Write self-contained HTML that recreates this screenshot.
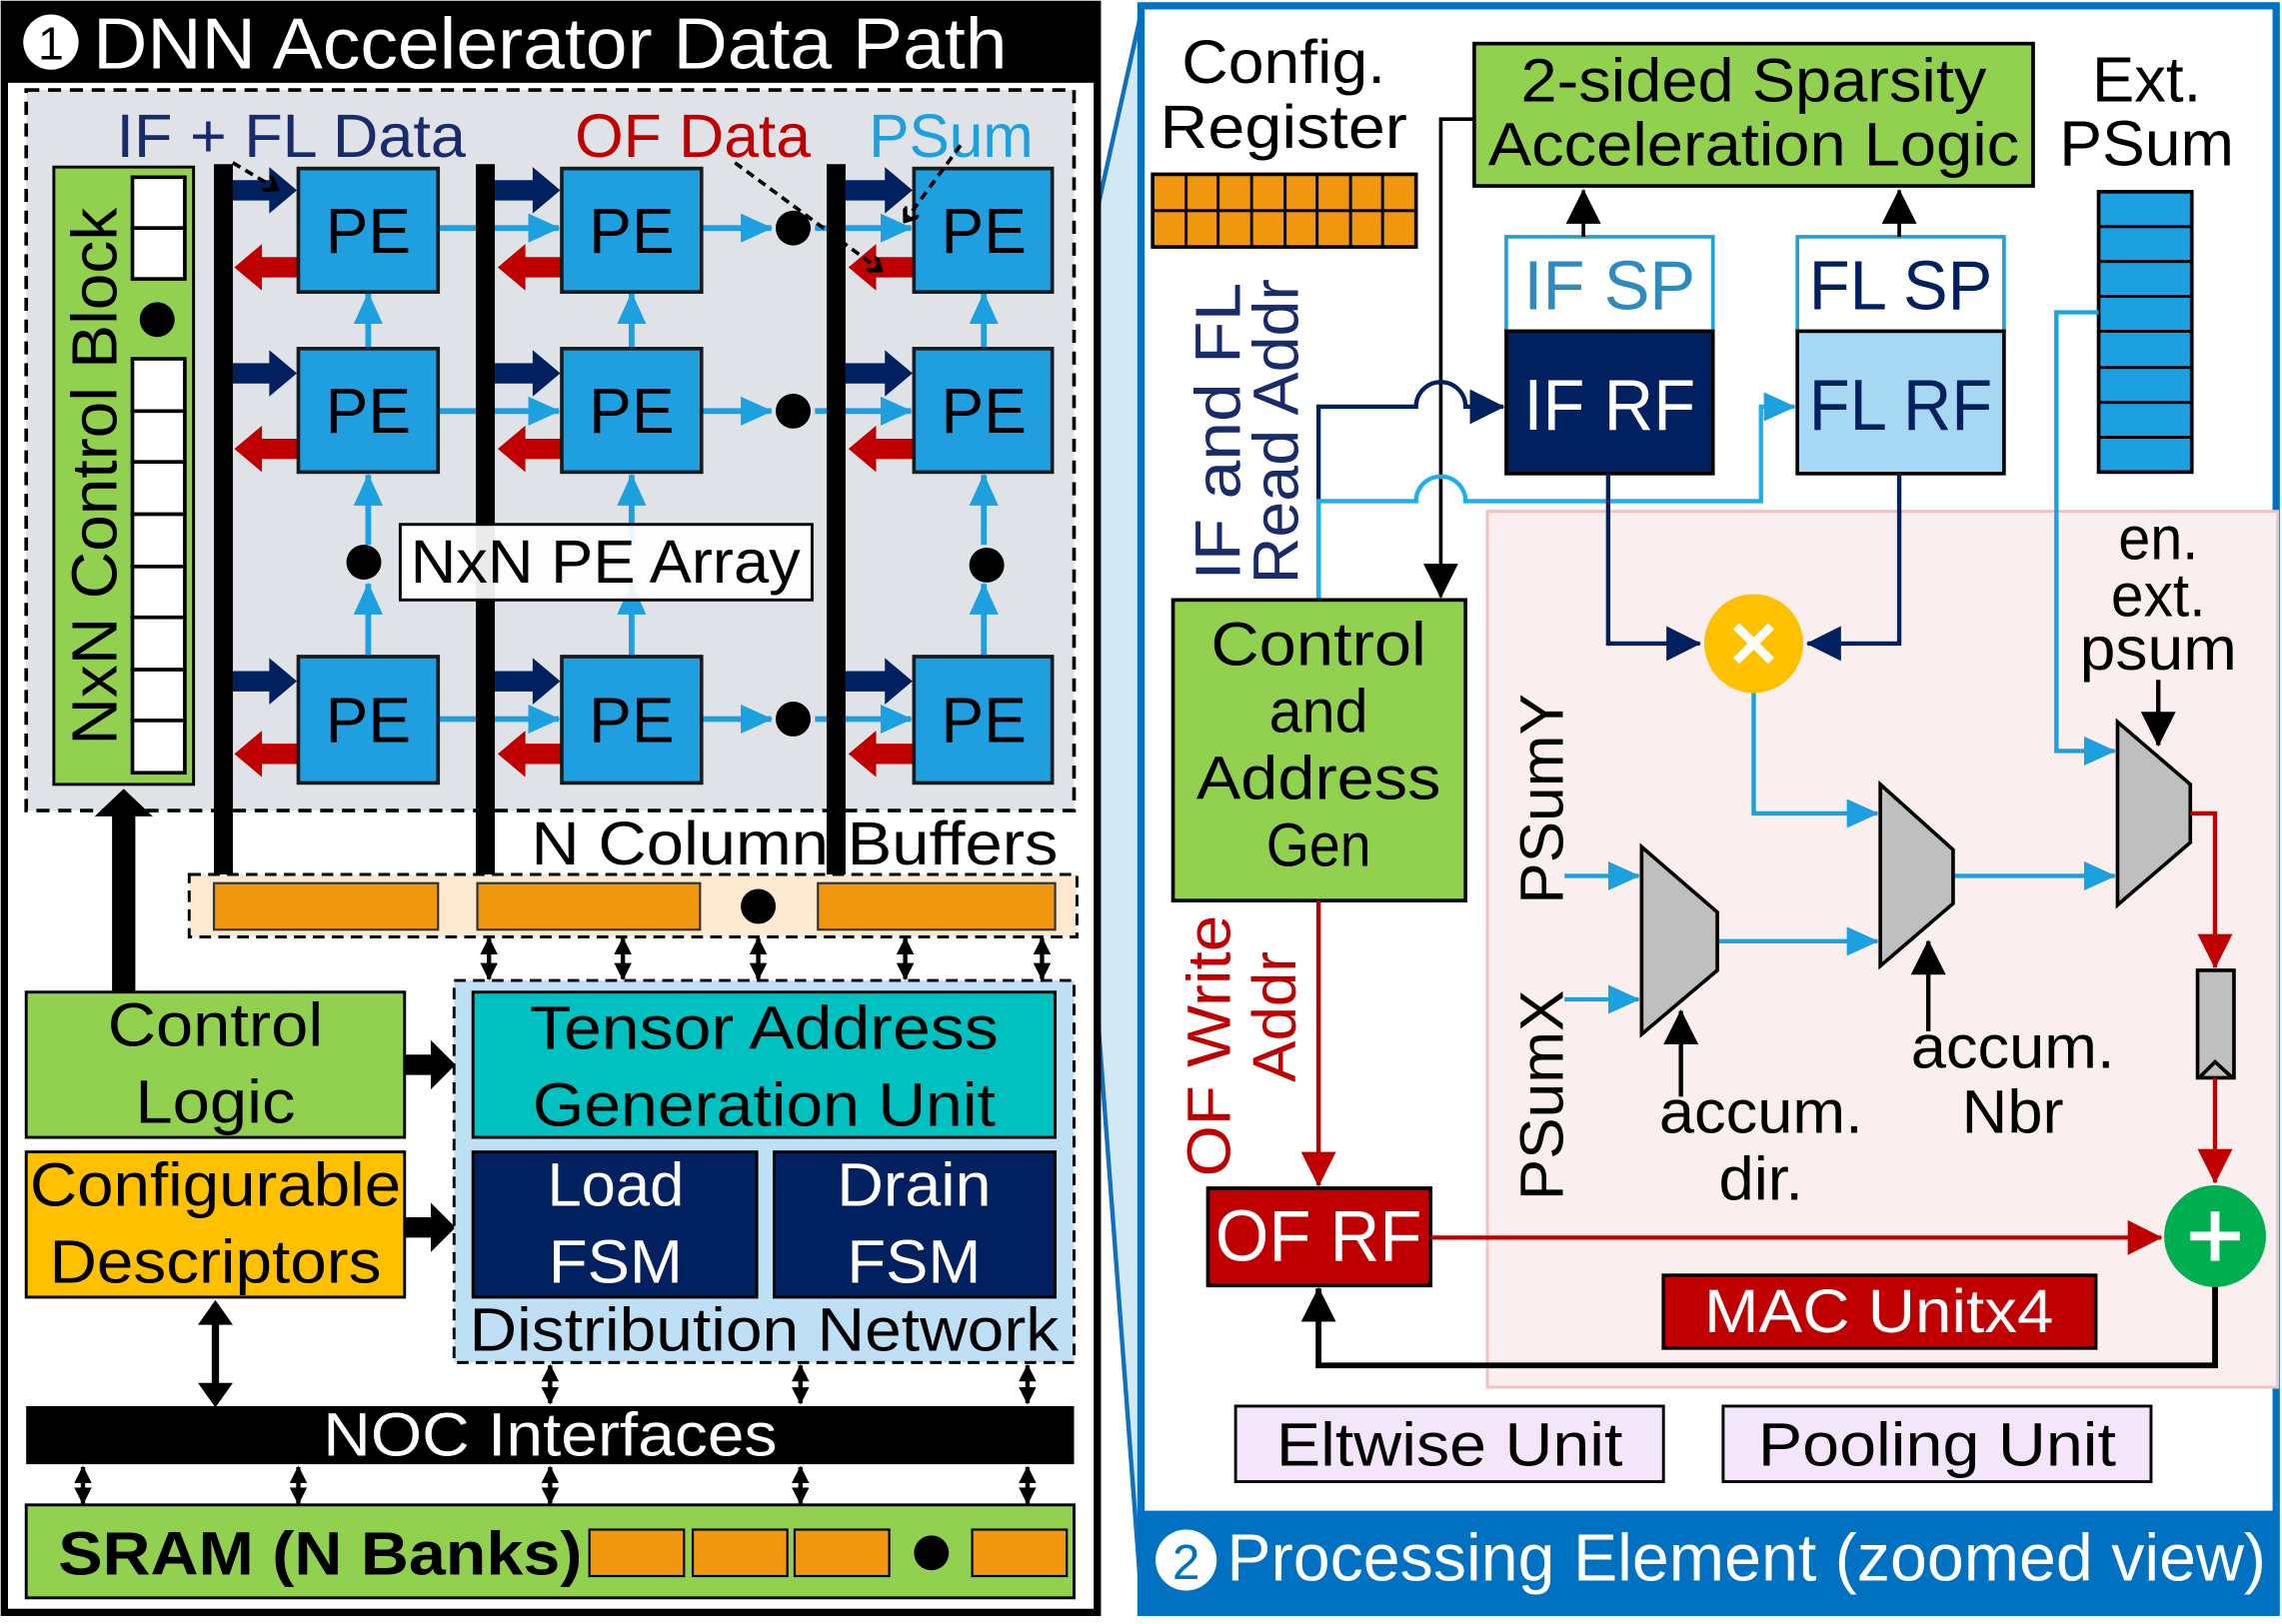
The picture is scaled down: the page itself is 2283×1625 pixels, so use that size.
<!DOCTYPE html>
<html><head><meta charset="utf-8"><style>
html,body{margin:0;padding:0;background:#fff;}
svg{display:block;}
text{font-family:"Liberation Sans",sans-serif;}
</style></head><body>
<svg width="2283" height="1625" viewBox="0 0 1568 1118" preserveAspectRatio="none" xmlns="http://www.w3.org/2000/svg">
<defs>
<marker id="ab" markerWidth="22" markerHeight="20" refX="21" refY="10" orient="auto" markerUnits="userSpaceOnUse"><path d="M0,0 L22,10 L0,20z" fill="#1ca0e0"/></marker>
<marker id="an" markerWidth="24" markerHeight="24" refX="23" refY="12" orient="auto" markerUnits="userSpaceOnUse"><path d="M0,0 L24,12 L0,24z" fill="#002060"/></marker>
<marker id="ar" markerWidth="24" markerHeight="24" refX="23" refY="12" orient="auto" markerUnits="userSpaceOnUse"><path d="M0,0 L24,12 L0,24z" fill="#c00000"/></marker>
<marker id="ak" markerWidth="24" markerHeight="24" refX="23" refY="12" orient="auto" markerUnits="userSpaceOnUse"><path d="M0,0 L24,12 L0,24z" fill="#000"/></marker>
<marker id="as" markerWidth="12" markerHeight="12" refX="11" refY="6" orient="auto-start-reverse" markerUnits="userSpaceOnUse"><path d="M0,0 L12,6 L0,12z" fill="#000"/></marker>
<marker id="ad" markerWidth="12" markerHeight="12" refX="10" refY="6" orient="auto" markerUnits="userSpaceOnUse"><path d="M2,0 L10,6 L2,12" fill="none" stroke="#000" stroke-width="3"/></marker>
</defs>

<polygon points="723,283 785,5 785,1110" fill="#d2e8f5" stroke="#1070c0" stroke-width="3"/>

<!-- LEFT PANEL -->
<rect x="3" y="3" width="751" height="1107" fill="#fff" stroke="#000" stroke-width="5"/>
<rect x="3" y="3" width="751" height="54" fill="#000"/>
<circle cx="35" cy="29" r="19" fill="#fff"/>
<text x="35" y="41" font-size="32" text-anchor="middle" fill="#000">1</text>
<text x="64" y="47" font-size="50" fill="#fff" textLength="628" lengthAdjust="spacingAndGlyphs">DNN Accelerator Data Path</text>

<rect x="18" y="62" width="720" height="496" fill="#dfe3e8" stroke="#000" stroke-width="2.5" stroke-dasharray="9,6"/>
<text x="80" y="108" font-size="42" fill="#1a2b6b" textLength="240" lengthAdjust="spacingAndGlyphs">IF + FL Data</text>
<text x="395" y="108" font-size="42" fill="#c00000" textLength="162" lengthAdjust="spacingAndGlyphs">OF Data</text>
<text x="597" y="108" font-size="42" fill="#1ca0e0" textLength="113" lengthAdjust="spacingAndGlyphs">PSum</text>

<rect x="37" y="115" width="96" height="425" fill="#92d050" stroke="#000" stroke-width="2"/>
<text transform="translate(80,328) rotate(-90)" font-size="44" text-anchor="middle" fill="#000" textLength="370" lengthAdjust="spacingAndGlyphs">NxN Control Block</text>
<g fill="#fff" stroke="#000" stroke-width="2.5">
<rect x="91" y="122" width="36" height="35"/><rect x="91" y="157" width="36" height="35"/>
<rect x="91" y="247" width="36" height="36"/><rect x="91" y="283" width="36" height="35"/>
<rect x="91" y="318" width="36" height="36"/><rect x="91" y="354" width="36" height="36"/>
<rect x="91" y="390" width="36" height="35"/><rect x="91" y="425" width="36" height="36"/>
<rect x="91" y="461" width="36" height="35"/><rect x="91" y="496" width="36" height="36"/>
</g>
<circle cx="108" cy="220" r="12" fill="#000"/>

<g stroke="#1ca0e0" stroke-width="4" fill="none">
<line x1="301" y1="157" x2="384" y2="157" marker-end="url(#ab)"/>
<line x1="482" y1="157" x2="530" y2="157" marker-end="url(#ab)"/>
<line x1="560" y1="157" x2="626" y2="157" marker-end="url(#ab)"/>
<line x1="301" y1="283" x2="384" y2="283" marker-end="url(#ab)"/>
<line x1="482" y1="283" x2="530" y2="283" marker-end="url(#ab)"/>
<line x1="560" y1="283" x2="626" y2="283" marker-end="url(#ab)"/>
<line x1="301" y1="495" x2="384" y2="495" marker-end="url(#ab)"/>
<line x1="482" y1="495" x2="530" y2="495" marker-end="url(#ab)"/>
<line x1="560" y1="495" x2="626" y2="495" marker-end="url(#ab)"/>
<line x1="253" y1="240" x2="253" y2="202" marker-end="url(#ab)"/>
<line x1="434" y1="240" x2="434" y2="202" marker-end="url(#ab)"/>
<line x1="676" y1="240" x2="676" y2="202" marker-end="url(#ab)"/>
<line x1="253" y1="375" x2="253" y2="327" marker-end="url(#ab)"/>
<line x1="434" y1="375" x2="434" y2="327" marker-end="url(#ab)"/>
<line x1="676" y1="375" x2="676" y2="327" marker-end="url(#ab)"/>
<line x1="253" y1="452" x2="253" y2="402" marker-end="url(#ab)"/>
<line x1="434" y1="452" x2="434" y2="402" marker-end="url(#ab)"/>
<line x1="676" y1="452" x2="676" y2="402" marker-end="url(#ab)"/>
</g>

<rect x="147" y="113" width="13" height="497" fill="#000"/>
<rect x="327" y="113" width="13" height="497" fill="#000"/>
<rect x="568" y="113" width="13" height="497" fill="#000"/>

<g fill="#002060">
<polygon points="160,124 185,124 185,115 204,131 185,147 185,138 160,138"/>
<polygon points="340,124 366,124 366,115 385,131 366,147 366,138 340,138"/>
<polygon points="581,124 608,124 608,115 627,131 608,147 608,138 581,138"/>
<polygon points="160,250 185,250 185,241 204,257 185,273 185,264 160,264"/>
<polygon points="340,250 366,250 366,241 385,257 366,273 366,264 340,264"/>
<polygon points="581,250 608,250 608,241 627,257 608,273 608,264 581,264"/>
<polygon points="160,462 185,462 185,453 204,469 185,485 185,476 160,476"/>
<polygon points="340,462 366,462 366,453 385,469 366,485 366,476 340,476"/>
<polygon points="581,462 608,462 608,453 627,469 608,485 608,476 581,476"/>
</g>
<g fill="#c00000">
<polygon points="205,177 180,177 180,168 161,184 180,200 180,191 205,191"/>
<polygon points="386,177 361,177 361,168 342,184 361,200 361,191 386,191"/>
<polygon points="628,177 602,177 602,168 583,184 602,200 602,191 628,191"/>
<polygon points="205,302 180,302 180,293 161,309 180,325 180,316 205,316"/>
<polygon points="386,302 361,302 361,293 342,309 361,325 361,316 386,316"/>
<polygon points="628,302 602,302 602,293 583,309 602,325 602,316 628,316"/>
<polygon points="205,512 180,512 180,503 161,519 180,535 180,526 205,526"/>
<polygon points="386,512 361,512 361,503 342,519 361,535 361,526 386,526"/>
<polygon points="628,512 602,512 602,503 583,519 602,535 602,526 628,526"/>
</g>

<g fill="#1f9fe0" stroke="#1a1a1a" stroke-width="2.5">
<rect x="205" y="116" width="96" height="85"/><rect x="386" y="116" width="96" height="85"/><rect x="628" y="116" width="95" height="85"/>
<rect x="205" y="240" width="96" height="85"/><rect x="386" y="240" width="96" height="85"/><rect x="628" y="240" width="95" height="85"/>
<rect x="205" y="452" width="96" height="87"/><rect x="386" y="452" width="96" height="87"/><rect x="628" y="452" width="95" height="87"/>
</g>
<g font-size="44" fill="#000" text-anchor="middle">
<text x="253" y="174">PE</text><text x="434" y="174">PE</text><text x="676" y="174">PE</text>
<text x="253" y="298">PE</text><text x="434" y="298">PE</text><text x="676" y="298">PE</text>
<text x="253" y="511">PE</text><text x="434" y="511">PE</text><text x="676" y="511">PE</text>
</g>
<g fill="#000">
<circle cx="545" cy="157" r="12"/><circle cx="545" cy="283" r="12"/><circle cx="545" cy="495" r="12"/>
<circle cx="250" cy="387" r="12"/><circle cx="678" cy="389" r="12"/>
</g>
<rect x="275" y="361" width="283" height="52" fill="#fff" fill-opacity="0.92" stroke="#000" stroke-width="2"/>
<text x="416" y="401" font-size="42" text-anchor="middle" fill="#000" textLength="268" lengthAdjust="spacingAndGlyphs">NxN PE Array</text>

<g stroke="#000" stroke-width="2.5" stroke-dasharray="6,4" fill="none">
<polyline points="160,112 190,130" marker-end="url(#ad)"/>
<polyline points="505,112 605,186" marker-end="url(#ad)"/>
<polyline points="660,100 622,152" marker-end="url(#ad)"/>
</g>

<rect x="130" y="602" width="610" height="43" fill="#fde9d0" stroke="#000" stroke-width="2" stroke-dasharray="8,5"/>
<text x="365" y="595" font-size="42" fill="#000" textLength="362" lengthAdjust="spacingAndGlyphs">N Column Buffers</text>
<g fill="#f0960f" stroke="#333" stroke-width="1.5">
<rect x="147" y="608" width="154" height="32"/><rect x="328" y="608" width="153" height="32"/><rect x="562" y="608" width="163" height="32"/>
</g>
<circle cx="521" cy="624" r="12" fill="#000"/>
<g stroke="#000" stroke-width="3" marker-start="url(#as)" marker-end="url(#as)">
<line x1="336" y1="646" x2="336" y2="674"/><line x1="428" y1="646" x2="428" y2="674"/>
<line x1="521" y1="646" x2="521" y2="674"/><line x1="622" y1="646" x2="622" y2="674"/>
<line x1="716" y1="646" x2="716" y2="674"/>
<line x1="378" y1="940" x2="378" y2="966"/><line x1="550" y1="940" x2="550" y2="966"/><line x1="706" y1="940" x2="706" y2="966"/>
<line x1="57" y1="1010" x2="57" y2="1035"/><line x1="205" y1="1010" x2="205" y2="1035"/><line x1="378" y1="1010" x2="378" y2="1035"/>
<line x1="550" y1="1010" x2="550" y2="1035"/><line x1="706" y1="1010" x2="706" y2="1035"/>
</g>

<polygon points="77,685 77,562 65,562 85,543 105,562 93,562 93,685" fill="#000"/>

<rect x="18" y="683" width="260" height="100" fill="#92d050" stroke="#000" stroke-width="2"/>
<text x="148" y="720" font-size="42" text-anchor="middle" textLength="148" lengthAdjust="spacingAndGlyphs">Control</text>
<text x="148" y="773" font-size="42" text-anchor="middle" textLength="110" lengthAdjust="spacingAndGlyphs">Logic</text>
<rect x="18" y="793" width="260" height="100" fill="#ffc000" stroke="#000" stroke-width="2"/>
<text x="148" y="830" font-size="42" text-anchor="middle" textLength="255" lengthAdjust="spacingAndGlyphs">Configurable</text>
<text x="148" y="883" font-size="42" text-anchor="middle" textLength="228" lengthAdjust="spacingAndGlyphs">Descriptors</text>
<polygon points="278,726 296,726 296,716 313,733 296,750 296,740 278,740" fill="#000"/>
<polygon points="278,838 296,838 296,828 313,845 296,862 296,852 278,852" fill="#000"/>
<line x1="148" y1="898" x2="148" y2="965" stroke="#000" stroke-width="5"/>
<polygon points="136,912 148,895 160,912" fill="#000"/><polygon points="136,952 148,969 160,952" fill="#000"/>

<rect x="312" y="675" width="426" height="263" fill="#bfe0f4" stroke="#000" stroke-width="2" stroke-dasharray="8,5"/>
<rect x="325" y="683" width="400" height="100" fill="#00c0c0" stroke="#000" stroke-width="2"/>
<text x="525" y="722" font-size="42" text-anchor="middle" textLength="322" lengthAdjust="spacingAndGlyphs">Tensor Address</text>
<text x="525" y="775" font-size="42" text-anchor="middle" textLength="318" lengthAdjust="spacingAndGlyphs">Generation Unit</text>
<rect x="325" y="793" width="195" height="100" fill="#002060" stroke="#000" stroke-width="2"/>
<rect x="532" y="793" width="193" height="100" fill="#002060" stroke="#000" stroke-width="2"/>
<text x="423" y="830" font-size="42" text-anchor="middle" fill="#fff" textLength="94" lengthAdjust="spacingAndGlyphs">Load</text>
<text x="423" y="883" font-size="42" text-anchor="middle" fill="#fff" textLength="92" lengthAdjust="spacingAndGlyphs">FSM</text>
<text x="628" y="830" font-size="42" text-anchor="middle" fill="#fff" textLength="106" lengthAdjust="spacingAndGlyphs">Drain</text>
<text x="628" y="883" font-size="42" text-anchor="middle" fill="#fff" textLength="92" lengthAdjust="spacingAndGlyphs">FSM</text>
<text x="525" y="930" font-size="42" text-anchor="middle" textLength="405" lengthAdjust="spacingAndGlyphs">Distribution Network</text>

<rect x="18" y="968" width="720" height="40" fill="#000"/>
<text x="378" y="1002" font-size="42" text-anchor="middle" fill="#fff" textLength="312" lengthAdjust="spacingAndGlyphs">NOC Interfaces</text>
<rect x="18" y="1036" width="720" height="64" fill="#92d050" stroke="#000" stroke-width="2"/>
<text x="40" y="1084" font-size="42" font-weight="bold" fill="#000" textLength="360" lengthAdjust="spacingAndGlyphs">SRAM (N Banks)</text>
<g fill="#f0960f" stroke="#000" stroke-width="1.5">
<rect x="405" y="1053" width="65" height="32"/><rect x="476" y="1053" width="65" height="32"/><rect x="546" y="1053" width="65" height="32"/><rect x="668" y="1053" width="65" height="32"/>
</g>
<circle cx="640" cy="1069" r="12" fill="#000"/>

<!-- RIGHT PANEL -->
<rect x="784" y="4" width="780" height="1106" fill="#fff" stroke="#0070c0" stroke-width="5"/>
<rect x="1022" y="352" width="543" height="603" fill="#fbeeee" stroke="#f4c0c0" stroke-width="2"/>
<rect x="784" y="1040" width="780" height="71" fill="#0070c0"/>
<circle cx="815" cy="1074" r="21" fill="#fff"/>
<text x="815" y="1087" font-size="34" text-anchor="middle" fill="#0070c0">2</text>
<text x="843" y="1088" font-size="46" fill="#fff" textLength="714" lengthAdjust="spacingAndGlyphs">Processing Element (zoomed view)</text>

<text x="882" y="57" font-size="42" text-anchor="middle" textLength="140" lengthAdjust="spacingAndGlyphs">Config.</text>
<text x="882" y="102" font-size="42" text-anchor="middle" textLength="170" lengthAdjust="spacingAndGlyphs">Register</text>
<rect x="792" y="120" width="181" height="50" fill="#f0960f" stroke="#000" stroke-width="2.5"/>
<g stroke="#000" stroke-width="2">
<line x1="792" y1="145" x2="973" y2="145"/>
<line x1="815" y1="120" x2="815" y2="170"/><line x1="837" y1="120" x2="837" y2="170"/><line x1="860" y1="120" x2="860" y2="170"/>
<line x1="883" y1="120" x2="883" y2="170"/><line x1="905" y1="120" x2="905" y2="170"/><line x1="928" y1="120" x2="928" y2="170"/><line x1="950" y1="120" x2="950" y2="170"/>
</g>

<rect x="1013" y="30" width="384" height="98" fill="#92d050" stroke="#000" stroke-width="2.5"/>
<text x="1205" y="70" font-size="42" text-anchor="middle" textLength="320" lengthAdjust="spacingAndGlyphs">2-sided Sparsity</text>
<text x="1205" y="114" font-size="42" text-anchor="middle" textLength="365" lengthAdjust="spacingAndGlyphs">Acceleration Logic</text>

<text x="1475" y="70" font-size="44" text-anchor="middle" textLength="75" lengthAdjust="spacingAndGlyphs">Ext.</text>
<text x="1475" y="114" font-size="44" text-anchor="middle" textLength="120" lengthAdjust="spacingAndGlyphs">PSum</text>
<rect x="1442" y="132" width="64" height="193" fill="#1ca0e0" stroke="#000" stroke-width="2.5"/>
<g stroke="#000" stroke-width="2">
<line x1="1442" y1="156" x2="1506" y2="156"/><line x1="1442" y1="180" x2="1506" y2="180"/><line x1="1442" y1="204" x2="1506" y2="204"/>
<line x1="1442" y1="228" x2="1506" y2="228"/><line x1="1442" y1="253" x2="1506" y2="253"/><line x1="1442" y1="277" x2="1506" y2="277"/><line x1="1442" y1="301" x2="1506" y2="301"/>
</g>

<rect x="1035" y="163" width="142" height="65" fill="#fff" stroke="#1ca0e0" stroke-width="2.5"/>
<text x="1106" y="213" font-size="48" text-anchor="middle" fill="#2e8bc0" textLength="118" lengthAdjust="spacingAndGlyphs">IF SP</text>
<rect x="1035" y="228" width="142" height="98" fill="#002060" stroke="#000" stroke-width="2.5"/>
<text x="1106" y="296" font-size="50" text-anchor="middle" fill="#fff" textLength="118" lengthAdjust="spacingAndGlyphs">IF RF</text>
<rect x="1235" y="163" width="142" height="65" fill="#fff" stroke="#1ca0e0" stroke-width="2.5"/>
<text x="1306" y="213" font-size="48" text-anchor="middle" fill="#002060" textLength="126" lengthAdjust="spacingAndGlyphs">FL SP</text>
<rect x="1235" y="228" width="142" height="98" fill="#a6d8f4" stroke="#000" stroke-width="2.5"/>
<text x="1306" y="296" font-size="50" text-anchor="middle" fill="#002060" textLength="126" lengthAdjust="spacingAndGlyphs">FL RF</text>

<line x1="1088" y1="163" x2="1088" y2="131" stroke="#000" stroke-width="2.5" marker-end="url(#ak)"/>
<line x1="1305" y1="163" x2="1305" y2="131" stroke="#000" stroke-width="2.5" marker-end="url(#ak)"/>

<polyline points="1013,82 990,82 990,411" fill="none" stroke="#000" stroke-width="2.5" marker-end="url(#ak)"/>

<path d="M906,413 L906,280 L973,280 A17,17 0 0 1 1007,280 L1033,280" fill="none" stroke="#002060" stroke-width="3" marker-end="url(#an)"/>
<path d="M906,413 L906,345 L973,345 A17,17 0 0 1 1007,345 L1210,345 L1210,280 L1233,280" fill="none" stroke="#1ab0f0" stroke-width="3" marker-end="url(#ab)"/>

<text transform="translate(852,297) rotate(-90)" font-size="44" text-anchor="middle" fill="#1a2b6b" textLength="205" lengthAdjust="spacingAndGlyphs">IF and FL</text>
<text transform="translate(892,297) rotate(-90)" font-size="44" text-anchor="middle" fill="#1a2b6b" textLength="210" lengthAdjust="spacingAndGlyphs">Read Addr</text>

<rect x="806" y="413" width="201" height="207" fill="#92d050" stroke="#000" stroke-width="2.5"/>
<g font-size="42" text-anchor="middle">
<text x="906" y="458" textLength="148" lengthAdjust="spacingAndGlyphs">Control</text><text x="906" y="504" textLength="68" lengthAdjust="spacingAndGlyphs">and</text><text x="906" y="550" textLength="168" lengthAdjust="spacingAndGlyphs">Address</text><text x="906" y="596" textLength="72" lengthAdjust="spacingAndGlyphs">Gen</text>
</g>

<polyline points="1105,326 1105,443 1168,443" fill="none" stroke="#002060" stroke-width="3" marker-end="url(#an)"/>
<polyline points="1305,326 1305,443 1242,443" fill="none" stroke="#002060" stroke-width="3" marker-end="url(#an)"/>
<circle cx="1205" cy="443" r="34" fill="#ffc000"/>
<g stroke="#fff" stroke-width="6"><line x1="1193" y1="431" x2="1217" y2="455"/><line x1="1217" y1="431" x2="1193" y2="455"/></g>

<g font-size="42" text-anchor="middle"><text x="1483" y="385" textLength="55" lengthAdjust="spacingAndGlyphs">en.</text><text x="1483" y="424" textLength="65" lengthAdjust="spacingAndGlyphs">ext.</text><text x="1483" y="461" textLength="108" lengthAdjust="spacingAndGlyphs">psum</text></g>
<line x1="1483" y1="468" x2="1483" y2="513" stroke="#000" stroke-width="3" marker-end="url(#ak)"/>

<g fill="none" stroke="#1ca0e0" stroke-width="3">
<polyline points="1442,215 1413,215 1413,517 1453,517" marker-end="url(#ab)"/>
<polyline points="1205,477 1205,560 1290,560" marker-end="url(#ab)"/>
<line x1="1180" y1="648" x2="1290" y2="648" marker-end="url(#ab)"/>
<line x1="1342" y1="603" x2="1453" y2="603" marker-end="url(#ab)"/>
<line x1="1075" y1="603" x2="1126" y2="603" marker-end="url(#ab)"/>
<line x1="1075" y1="688" x2="1126" y2="688" marker-end="url(#ab)"/>
</g>

<g fill="#bfbfbf" stroke="#000" stroke-width="2.5">
<polygon points="1128,583 1180,628 1180,668 1128,712"/>
<polygon points="1292,540 1342,585 1342,622 1292,665"/>
<polygon points="1455,497 1505,540 1505,580 1455,623"/>
</g>

<text transform="translate(1074,550) rotate(-90)" font-size="42" text-anchor="middle" textLength="145" lengthAdjust="spacingAndGlyphs">PSumY</text>
<text transform="translate(1074,754) rotate(-90)" font-size="42" text-anchor="middle" textLength="145" lengthAdjust="spacingAndGlyphs">PSumX</text>

<line x1="1155" y1="755" x2="1155" y2="696" stroke="#000" stroke-width="3" marker-end="url(#ak)"/>
<text x="1210" y="780" font-size="42" text-anchor="middle" textLength="140" lengthAdjust="spacingAndGlyphs">accum.</text>
<text x="1210" y="826" font-size="42" text-anchor="middle" textLength="58" lengthAdjust="spacingAndGlyphs">dir.</text>
<line x1="1325" y1="710" x2="1325" y2="648" stroke="#000" stroke-width="3" marker-end="url(#ak)"/>
<text x="1383" y="735" font-size="42" text-anchor="middle" textLength="140" lengthAdjust="spacingAndGlyphs">accum.</text>
<text x="1383" y="780" font-size="42" text-anchor="middle" textLength="70" lengthAdjust="spacingAndGlyphs">Nbr</text>

<polyline points="1505,560 1522,560 1522,666" fill="none" stroke="#c00000" stroke-width="3" marker-end="url(#ar)"/>
<rect x="1510" y="668" width="25" height="74" fill="#bfbfbf" stroke="#000" stroke-width="2.5"/>
<polyline points="1511,742 1522,731 1534,742" fill="none" stroke="#000" stroke-width="2.5"/>
<line x1="1522" y1="742" x2="1522" y2="814" stroke="#c00000" stroke-width="3" marker-end="url(#ar)"/>

<circle cx="1522" cy="851" r="35" fill="#00b050"/>
<g stroke="#fff" stroke-width="6"><line x1="1522" y1="834" x2="1522" y2="868"/><line x1="1505" y1="851" x2="1539" y2="851"/></g>

<line x1="906" y1="620" x2="906" y2="816" stroke="#c00000" stroke-width="3" marker-end="url(#ar)"/>
<text transform="translate(845,720) rotate(-90)" font-size="42" text-anchor="middle" fill="#c00000" textLength="180" lengthAdjust="spacingAndGlyphs">OF Write</text>
<text transform="translate(890,700) rotate(-90)" font-size="42" text-anchor="middle" fill="#c00000" textLength="90" lengthAdjust="spacingAndGlyphs">Addr</text>

<rect x="830" y="818" width="153" height="67" fill="#c00000" stroke="#000" stroke-width="2.5"/>
<text x="906" y="868" font-size="50" text-anchor="middle" fill="#fff" textLength="142" lengthAdjust="spacingAndGlyphs">OF RF</text>
<line x1="983" y1="852" x2="1485" y2="852" stroke="#c00000" stroke-width="3" marker-end="url(#ar)"/>

<polyline points="1522,886 1522,940 906,940 906,887" fill="none" stroke="#000" stroke-width="4" marker-end="url(#ak)"/>

<rect x="1143" y="878" width="297" height="50" fill="#c00000" stroke="#000" stroke-width="2.5"/>
<text x="1291" y="917" font-size="42" text-anchor="middle" fill="#fff" textLength="240" lengthAdjust="spacingAndGlyphs">MAC Unitx4</text>

<rect x="849" y="968" width="294" height="52" fill="#f3e6fb" stroke="#000" stroke-width="2"/>
<text x="996" y="1009" font-size="42" text-anchor="middle" textLength="238" lengthAdjust="spacingAndGlyphs">Eltwise Unit</text>
<rect x="1184" y="968" width="294" height="52" fill="#f3e6fb" stroke="#000" stroke-width="2"/>
<text x="1331" y="1009" font-size="42" text-anchor="middle" textLength="246" lengthAdjust="spacingAndGlyphs">Pooling Unit</text>
</svg>
</body></html>
